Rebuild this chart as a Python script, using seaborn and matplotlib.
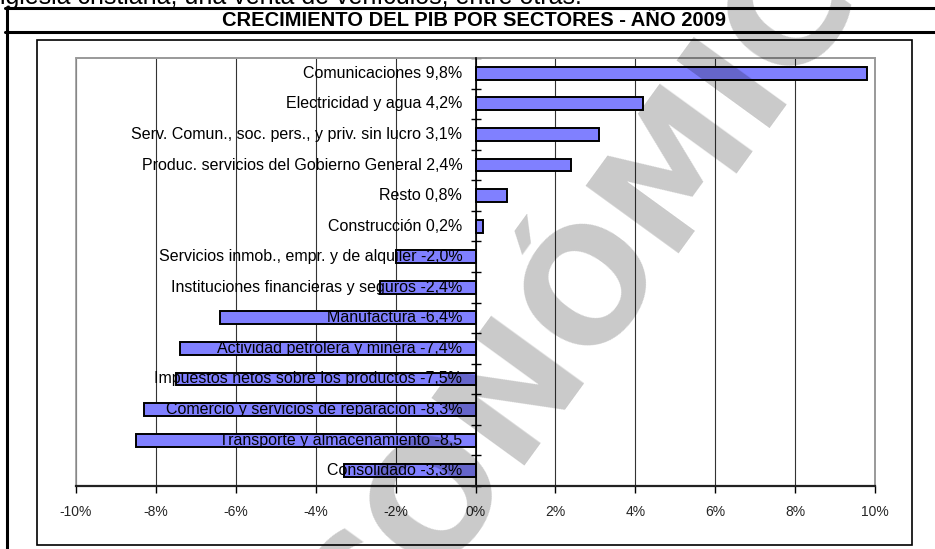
import matplotlib
matplotlib.use("Agg")
import matplotlib.pyplot as plt
import matplotlib.ticker as mticker
from matplotlib.patches import Rectangle
from matplotlib.lines import Line2D
import seaborn as sns
import pandas as pd
import numpy as np

# ---- data ----
categories = [
    "Comunicaciones",
    "Electricidad y agua",
    "Serv. Comun., soc. pers., y priv. sin lucro",
    "Produc. servicios del Gobierno General",
    "Resto",
    "Construcción",
    "Servicios inmob., empr. y de alquiler",
    "Instituciones financieras y seguros",
    "Manufactura",
    "Actividad petrolera y minera",
    "Impuestos netos sobre los productos",
    "Comercio y servicios de reparacion",
    "Transporte y almacenamiento",
    "Consolidado",
]
values = [9.8, 4.2, 3.1, 2.4, 0.8, 0.2, -2.0, -2.4, -6.4, -7.4, -7.5, -8.3, -8.5, -3.3]
value_labels = ["9,8%", "4,2%", "3,1%", "2,4%", "0,8%", "0,2%", "-2,0%", "-2,4%",
                "-6,4%", "-7,4%", "-7,5%", "-8,3%", "-8,5", "-3,3%"]
x_ticks = [-10, -8, -6, -4, -2, 0, 2, 4, 6, 8, 10]
x_tick_labels = ["-10%", "-8%", "-6%", "-4%", "-2%", "0%", "2%", "4%", "6%", "8%", "10%"]
title = "CRECIMIENTO DEL PIB POR SECTORES - AÑO 2009"
top_text = "iglesia cristiana, una venta de vehículos, entre otras."
watermark = "ECONÓMICO"

sns.set_theme(style="white")
plt.rcParams["font.family"] = ["Liberation Sans", "DejaVu Sans"]

W, H = 935, 549
fig = plt.figure(figsize=(W / 100, H / 100), dpi=100)
fig.patch.set_facecolor("white")

def fx(px):
    return px / W

def fy(py):
    return 1 - py / H

ax = fig.add_axes([fx(76), fy(486), fx(875) - fx(76), fy(58) - fy(486)])

df = pd.DataFrame({"cat": categories, "val": values})
sns.barplot(data=df, x="val", y="cat", order=categories, orient="h",
            color="#8080FF", saturation=1, width=0.42,
            edgecolor="black", linewidth=1.4, ax=ax, zorder=3)

ax.set_xlim(-10, 10)
ax.set_ylim(len(categories) - 0.5, -0.5)
ax.set_xlabel("")
ax.set_ylabel("")

ax.set_xticks(x_ticks)
ax.set_xticklabels(x_tick_labels)
ax.tick_params(axis="x", direction="out", length=5, width=1, color="black",
               labelsize=10, pad=8.5, bottom=True)
ax.grid(axis="x", color="#333333", linewidth=0.8, zorder=0)
ax.grid(axis="y", visible=False)

ax.spines["left"].set_position(("data", 0))
ax.spines["left"].set_color("black")
ax.spines["left"].set_linewidth(1.2)
ax.spines["left"].set_zorder(4)
ax.set_yticks([])
ax.yaxis.set_minor_locator(mticker.FixedLocator(np.arange(-0.5, len(categories), 1)))
ax.tick_params(axis="y", which="minor", direction="inout", length=7, width=1,
               color="black", left=True)
ax.yaxis.set_minor_formatter(mticker.NullFormatter())

for s in ["top", "right"]:
    ax.spines[s].set_color("#999999")
    ax.spines[s].set_linewidth(1.2)
ax.spines["bottom"].set_color("#222222")
ax.spines["bottom"].set_linewidth(1.6)
ax.spines["bottom"].set_zorder(4)
ax.add_patch(Rectangle((0, 0), 1, 1, transform=ax.transAxes, fill=False,
                       edgecolor="#999999", linewidth=1.2, zorder=1, clip_on=False))

for i, (c, v) in enumerate(zip(categories, value_labels)):
    ax.annotate(f"{c} {v}", xy=(0, i), xytext=(-9.5, 0), textcoords="offset points",
                ha="right", va="center", fontsize=11.5, color="black", zorder=5)

# frame lines
fig.add_artist(Rectangle((fx(37), fy(545)), fx(912) - fx(37), fy(40) - fy(545),
                         transform=fig.transFigure, fill=False, edgecolor="black",
                         linewidth=1.2))
fig.add_artist(Line2D([fx(5), 1], [fy(7.5), fy(7.5)], transform=fig.transFigure,
                      color="black", linewidth=2.2))
fig.add_artist(Line2D([fx(5), 1], [fy(31.5), fy(31.5)], transform=fig.transFigure,
                      color="black", linewidth=2.2))
fig.add_artist(Line2D([fx(6.5), fx(6.5)], [fy(6.5), 0], transform=fig.transFigure,
                      color="black", linewidth=2.2))

fig.text(fx(474), fy(21), title, ha="center", va="center", fontsize=14.5,
         fontweight="bold", color="black")
fig.text(fx(0), fy(4), top_text, ha="left", va="baseline", fontsize=18,
         color="black")

# watermark
fig.text(fx(585), fy(290), watermark, ha="center", va="center", fontsize=112,
         fontweight="bold", family=["DejaVu Sans"], color="black", alpha=0.21,
         rotation=54, rotation_mode="anchor", zorder=10)

fig.savefig("out.png", dpi=100)
